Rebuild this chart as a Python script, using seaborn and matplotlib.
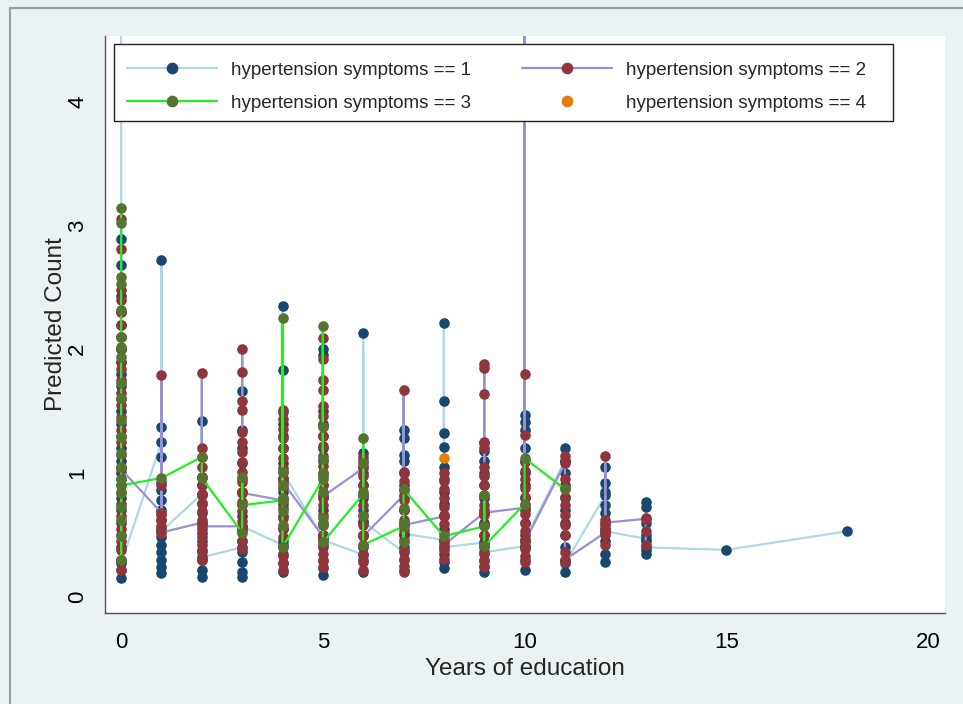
import matplotlib
matplotlib.use("Agg")
import matplotlib.pyplot as plt
from matplotlib.lines import Line2D
from matplotlib.patches import Rectangle
import seaborn as sns
import pandas as pd

# ---- data: predicted counts by years of education, per symptom group ----
# each list is in the plotting (connection) order of the original graph
hyp1 = {
    0: [4.8, 2.89, 2.68, 2.43, 2.3, 2.2, 2.1, 2.0, 1.9, 1.8, 1.7, 1.6, 1.5, 1.4, 1.3, 1.2, 1.1,
        1.0, 0.9, 0.8, 0.7, 0.6, 0.5, 0.4, 0.3, 0.22, 0.15, 0.27],
    1: [1.25, 2.72, 1.37, 1.13, 0.93, 0.86, 0.78, 0.7, 0.62, 0.55, 0.48, 0.42, 0.36, 0.3, 0.24, 0.19, 0.53],
    2: [0.83, 1.42, 0.97, 0.9, 0.82, 0.75, 0.68, 0.6, 0.52, 0.45, 0.38, 0.3, 0.22, 0.16, 0.32],
    3: [0.4, 1.66, 1.35, 1.2, 1.08, 0.95, 0.85, 0.75, 0.65, 0.55, 0.45, 0.36, 0.28, 0.2, 0.16, 0.57],
    4: [0.42, 2.35, 1.83, 1.49, 1.4, 1.3, 1.2, 1.08, 0.95, 0.85, 0.75, 0.65, 0.55, 0.45, 0.35, 0.27, 0.2, 1.01],
    5: [0.48, 2.0, 1.95, 1.5, 1.4, 1.3, 1.2, 1.1, 1.0, 0.9, 0.8, 0.7, 0.6, 0.5, 0.4, 0.3, 0.23, 0.18, 0.46],
    6: [0.34, 2.13, 1.16, 1.1, 1.0, 0.9, 0.8, 0.7, 0.6, 0.5, 0.4, 0.3, 0.2, 0.61],
    7: [0.36, 1.35, 1.28, 1.15, 1.1, 1.0, 0.9, 0.8, 0.7, 0.6, 0.5, 0.4, 0.3, 0.22, 0.51],
    8: [0.46, 2.21, 1.58, 1.32, 1.21, 1.05, 0.95, 0.85, 0.75, 0.65, 0.55, 0.45, 0.35, 0.28, 0.23, 0.4],
    9: [0.44, 1.24, 1.18, 1.1, 1.0, 0.9, 0.8, 0.7, 0.6, 0.5, 0.4, 0.3, 0.25, 0.2, 0.36],
    10: [0.41, 1.47, 1.41, 1.35, 1.2, 1.1, 1.0, 0.9, 0.8, 0.7, 0.6, 0.5, 0.4, 0.3, 0.22, 0.46],
    11: [1.1, 1.2, 1.1, 1.0, 0.9, 0.8, 0.7, 0.6, 0.5, 0.4, 0.3, 0.2, 0.27],
    12: [0.82, 1.05, 0.92, 0.85, 0.74, 0.68, 0.55, 0.45, 0.35, 0.28, 0.53],
    13: [0.47, 0.77, 0.73, 0.6, 0.5, 0.45, 0.38, 0.35, 0.4],
    15: [0.38],
    18: [0.53],
}
hyp2 = {
    0: [3.05, 2.81, 2.48, 2.4, 2.3, 2.2, 2.1, 2.0, 1.9, 1.84, 1.75, 1.65, 1.55, 1.45, 1.35, 1.25,
        1.15, 1.05, 0.95, 0.85, 0.75, 0.65, 0.55, 0.45, 0.38, 0.3, 0.22, 1.03],
    1: [0.68, 1.79, 0.9, 0.66, 0.62, 0.57, 0.52],
    2: [0.6, 1.81, 1.2, 1.13, 1.05, 0.97, 0.9, 0.83, 0.76, 0.69, 0.62, 0.55, 0.48, 0.42, 0.36, 0.3, 0.57],
    3: [0.57, 2.0, 1.82, 1.58, 1.51, 1.33, 1.25, 1.17, 1.09, 1.01, 0.93, 0.85, 0.77, 0.69, 0.61,
        0.53, 0.45, 0.39, 0.84],
    4: [0.78, 1.51, 1.44, 1.36, 1.28, 1.2, 1.12, 1.04, 0.96, 0.88, 0.8, 0.72, 0.64, 0.56, 0.48,
        0.4, 0.33, 0.27, 0.22, 0.93],
    5: [0.49, 2.09, 1.92, 1.75, 1.67, 1.54, 1.46, 1.38, 1.3, 1.22, 1.14, 1.06, 0.98, 0.9, 0.82,
        0.74, 0.66, 0.58, 0.5, 0.42, 0.35, 0.29, 0.24, 0.81],
    6: [1.04, 1.13, 1.06, 0.98, 0.9, 0.82, 0.74, 0.66, 0.58, 0.5, 0.42, 0.35, 0.28, 0.22, 0.49],
    7: [0.82, 1.67, 1.01, 0.94, 0.86, 0.78, 0.7, 0.62, 0.54, 0.46, 0.38, 0.31, 0.25, 0.2, 0.58],
    8: [0.65, 1.0, 0.94, 0.87, 0.8, 0.73, 0.66, 0.59, 0.52, 0.45, 0.38, 0.31, 0.42],
    9: [0.68, 1.88, 1.85, 1.64, 1.25, 1.2, 1.05, 0.98, 0.9, 0.82, 0.74, 0.66, 0.58, 0.5, 0.42,
        0.35, 0.29, 0.24, 0.68],
    10: [0.72, 4.8, 1.8, 1.31, 1.09, 1.02, 0.95, 0.88, 0.81, 0.74, 0.67, 0.6, 0.53, 0.46, 0.39,
         0.33, 0.28, 0.44],
    11: [1.08, 1.14, 0.95, 0.88, 0.81, 0.74, 0.66, 0.58, 0.5, 0.36, 0.28, 0.3],
    12: [0.52, 1.14, 0.62, 0.58, 0.55, 0.5, 0.42, 0.6],
    13: [0.63, 0.64, 0.53, 0.42],
}
hyp3 = {
    0: [3.14, 3.02, 2.58, 2.53, 2.32, 2.1, 2.02, 1.94, 1.73, 1.61, 1.43, 1.29, 1.16, 1.05, 0.95,
        0.84, 0.73, 0.62, 0.49, 0.3, 0.9],
    1: [0.96],
    2: [1.13, 0.96],
    3: [0.52, 0.97, 0.74],
    4: [0.78, 2.25, 1.01, 0.9, 0.8, 0.69, 0.58, 0.4],
    5: [0.95, 2.19, 1.37, 1.11, 1.0, 0.85, 0.64, 0.58, 0.44],
    6: [0.83, 1.28, 1.08, 0.85, 0.65, 0.42],
    7: [0.57, 0.44, 0.6, 0.72, 0.87],
    8: [0.49],
    9: [0.57, 0.82, 0.41],
    10: [0.75, 1.12],
    11: [0.87],
}
hyp4 = {
    8: [1.12],
}

labels = ["hypertension symptoms == 1", "hypertension symptoms == 2",
          "hypertension symptoms == 3", "hypertension symptoms == 4"]
marker_colors = ["#1a476f", "#90353b", "#55752f", "#e37e00"]
line_colors = ["#add8e6", "#9890d6", "#22ee22", None]

frames = []
for lab, d in zip(labels, [hyp1, hyp2, hyp3, hyp4]):
    for x, ys in d.items():
        for y in ys:
            frames.append({"group": lab, "educ": x, "pred": y})
df = pd.DataFrame(frames)

# ---- style ----
sns.set_style("white")
plt.rcParams["font.family"] = ["Liberation Sans", "DejaVu Sans"]

fig = plt.figure(figsize=(9.63, 7.04), dpi=100, facecolor="#eaf2f3")
ax = fig.add_axes([105 / 963, 1 - 613 / 704, 840 / 963, 577 / 704])
ax.set_facecolor("white")

z = 2
for lab, mc, lc in zip(labels, marker_colors, line_colors):
    sub = df[df["group"] == lab]
    if lc is not None:
        sns.lineplot(data=sub, x="educ", y="pred", sort=False, estimator=None,
                     color=lc, linewidth=1.6, ax=ax, zorder=z)
    sns.scatterplot(data=sub, x="educ", y="pred", color=mc, s=58, linewidth=0,
                    ax=ax, zorder=z + 1)
    z += 2

ax.set_xlim(-0.4, 20.42)
ax.set_ylim(-0.13, 4.53)
ax.set_xticks([0, 5, 10, 15, 20])
ax.set_yticks([0, 1, 2, 3, 4])
ax.tick_params(axis="both", which="both", direction="out", length=7, width=1,
               color="#444444", labelsize=16, labelcolor="black")
ax.tick_params(axis="x", pad=7)
ax.tick_params(axis="y", pad=5)
for t in ax.get_yticklabels():
    t.set_rotation(90)
    t.set_va("center")
for side in ["top", "right"]:
    ax.spines[side].set_visible(False)
for side in ["left", "bottom"]:
    ax.spines[side].set_color("#555555")
    ax.spines[side].set_linewidth(1.0)

ax.set_xlabel("Years of education", fontsize=17.5, labelpad=3)
ax.set_ylabel("Predicted Count", fontsize=17.5, labelpad=0)

handles = []
for mc, lc in zip(marker_colors, line_colors):
    if lc is None:
        handles.append(Line2D([0], [0], linestyle="none", marker="o", markersize=7.4,
                              markerfacecolor=mc, markeredgecolor=mc))
    else:
        handles.append(Line2D([0], [0], color=lc, linewidth=1.6, marker="o", markersize=7.4,
                              markerfacecolor=mc, markeredgecolor=mc))

# legend box (drawn as its own frame so its extent matches the original)
ax.add_patch(Rectangle((9 / 840, 1 - 85 / 577), 779 / 840, 77 / 577, transform=ax.transAxes,
                       facecolor="white", edgecolor="#222222", linewidth=1.0, zorder=19,
                       clip_on=False))
# legend filled row by row (1, 2 / 3, 4): matplotlib fills columns first
order = [0, 2, 1, 3]
leg = ax.legend([handles[i] for i in order], [labels[i] for i in order], ncol=2,
                loc="upper left", bbox_to_anchor=(9 / 840, 1 - 13 / 577),
                fontsize=13.5, frameon=False,
                handlelength=4.8, handletextpad=0.75, labelspacing=0.85,
                borderpad=0.68, borderaxespad=0, columnspacing=2.75)
leg.set_zorder(20)

fig.patches.append(Rectangle((9.5 / 963, -0.2), 2, 1.2 - 8.5 / 704, transform=fig.transFigure,
                             fill=False, edgecolor="#a0a0a0", linewidth=1.6, zorder=0))

fig.savefig("out.png", dpi=100, facecolor=fig.get_facecolor())
